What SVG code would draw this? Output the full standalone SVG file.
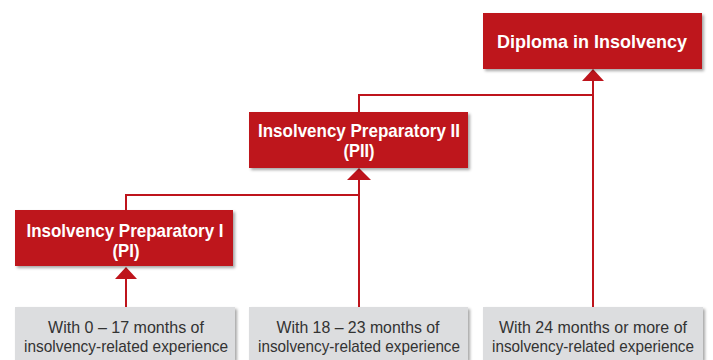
<svg xmlns="http://www.w3.org/2000/svg" width="713" height="360" viewBox="0 0 713 360">
<defs>
<style>
.red{fill:#BE141C;}
.gray{fill:#DCDDDF;}
.rt{font-family:"Liberation Sans",Arial,sans-serif;font-weight:bold;font-size:19px;fill:#fff;text-anchor:middle;}
.gt{font-family:"Liberation Sans",Arial,sans-serif;font-size:17px;fill:#333;text-anchor:middle;}
.ln{stroke:#BE141C;stroke-width:2;fill:none;}
.ah{fill:#BE141C;}
</style>
<filter id="sh" x="-10%" y="-10%" width="125%" height="130%">
<feDropShadow dx="2" dy="2" stdDeviation="1.5" flood-color="#000" flood-opacity="0.35"/>
</filter>
</defs>
<rect width="713" height="360" fill="#fff"/>
<g id="connectors">
<path class="ln" d="M126 307V276"/>
<path class="ln" d="M126 210V195H359"/>
<path class="ln" d="M359 307V176"/>
<path class="ln" d="M359 112V95H593"/>
<path class="ln" d="M593 307V78"/>
<polygon class="ah" points="126,267 137,279 115,279"/>
<polygon class="ah" points="359,168 371,180 347,180"/>
<polygon class="ah" points="593,69 604,81 582,81"/>
</g>
<g id="pi">
<rect class="red" x="15" y="210" width="218" height="56" filter="url(#sh)"/>
<text class="rt" x="125" y="237" textLength="197" lengthAdjust="spacingAndGlyphs">Insolvency Preparatory I</text>
<text class="rt" x="126" y="257" textLength="27" lengthAdjust="spacingAndGlyphs">(PI)</text>
</g>
<g id="pii">
<rect class="red" x="249" y="112" width="219" height="56" filter="url(#sh)"/>
<text class="rt" x="359" y="137" textLength="202" lengthAdjust="spacingAndGlyphs">Insolvency Preparatory II</text>
<text class="rt" x="359" y="157" textLength="31" lengthAdjust="spacingAndGlyphs">(PII)</text>
</g>
<g id="diploma">
<rect class="red" x="483" y="13" width="219" height="56" filter="url(#sh)"/>
<text class="rt" x="592" y="48" textLength="190" lengthAdjust="spacingAndGlyphs">Diploma in Insolvency</text>
</g>
<g id="exp1">
<rect class="gray" x="15" y="307" width="220" height="53" filter="url(#sh)"/>
<text class="gt" x="126" y="333" textLength="156" lengthAdjust="spacingAndGlyphs">With 0 – 17 months of</text>
<text class="gt" x="126" y="352" textLength="204" lengthAdjust="spacingAndGlyphs">insolvency-related experience</text>
</g>
<g id="exp2">
<rect class="gray" x="249" y="307" width="219" height="53" filter="url(#sh)"/>
<text class="gt" x="358" y="333" textLength="163" lengthAdjust="spacingAndGlyphs">With 18 – 23 months of</text>
<text class="gt" x="359" y="352" textLength="202" lengthAdjust="spacingAndGlyphs">insolvency-related experience</text>
</g>
<g id="exp3">
<rect class="gray" x="483" y="307" width="220" height="53" filter="url(#sh)"/>
<text class="gt" x="593" y="333" textLength="188" lengthAdjust="spacingAndGlyphs">With 24 months or more of</text>
<text class="gt" x="593" y="352" textLength="202" lengthAdjust="spacingAndGlyphs">insolvency-related experience</text>
</g>
</svg>
